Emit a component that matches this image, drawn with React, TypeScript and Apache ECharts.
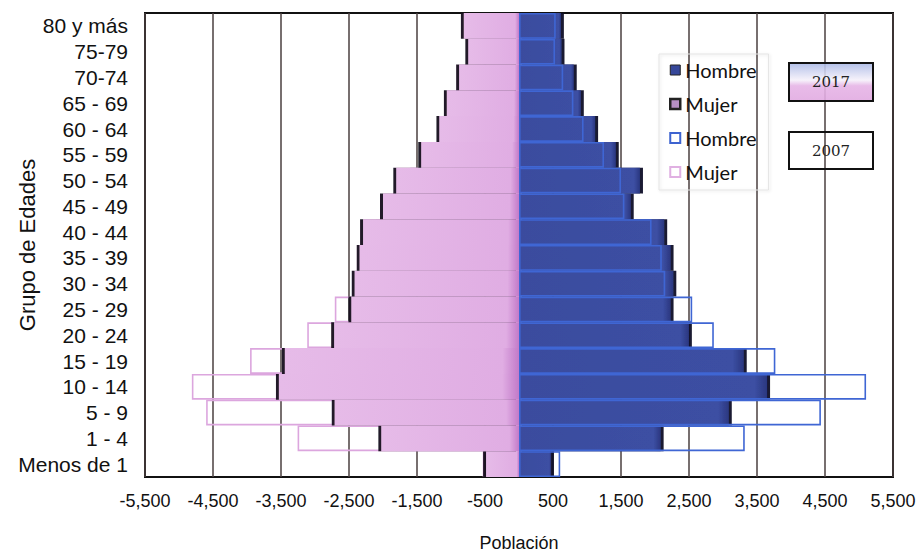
import React, { useEffect, useRef } from "react";
import * as echarts from "echarts";

const categories = [
  "Menos de 1", "1 - 4", "5 - 9", "10 - 14", "15 - 19", "20 - 24", "25 - 29",
  "30 - 34", "35 - 39", "40 - 44", "45 - 49", "50 - 54", "55 - 59", "60 - 64",
  "65 - 69", "70-74", "75-79", "80 y más",
];

const mujer2017 = [-484, -2024, -2709, -3530, -3442, -2718, -2464, -2415, -2342, -2293, -2000, -1804, -1437, -1170, -1060, -880, -745, -810];
const hombre2017 = [469, 2083, 3085, 3648, 3305, 2498, 2229, 2269, 2229, 2135, 1643, 1779, 1423, 1119, 909, 805, 625, 616];
const mujer2007 = [-533, -3256, -4601, -4811, -3955, -3114, -2709, -2300, -2200, -2100, -1850, -1600, -1300, -1050, -900, -750, -650, -700];
const hombre2007 = [606, 3320, 4440, 5104, 3770, 2865, 2547, 2150, 2100, 1950, 1550, 1500, 1250, 950, 800, 650, 530, 540];

const yearLabels = ["2017", "2007"];

export default function App() {
  const ref = useRef<HTMLDivElement>(null);
  useEffect(() => {
    if (!ref.current) return;
    const chart = echarts.init(ref.current, null, { renderer: "svg" });
    const pink = new echarts.graphic.LinearGradient(0, 0, 1, 0, [
      { offset: 0, color: "#e6bbe8" },
      { offset: 0.93, color: "#e0ade3" },
      { offset: 1, color: "#c27ac9" },
    ]);
    const blue = new echarts.graphic.LinearGradient(0, 0, 1, 0, [
      { offset: 0, color: "#3a4c9e" },
      { offset: 0.95, color: "#3c4fa3" },
      { offset: 1, color: "#2b3780" },
    ]);
    const font = "'Liberation Sans', Arial, sans-serif";
    chart.setOption({
      animation: false,
      backgroundColor: "#ffffff",
      grid: {
        left: 145, right: 23, top: 13, bottom: 80,
        containLabel: false,
        outerBoundsMode: "none",
        show: true, borderColor: "#111", borderWidth: 2,
      },
      legend: {
        orient: "vertical",
        left: 659, top: 54,
        padding: [6, 12, 8, 10],
        itemWidth: 10, itemHeight: 10, itemGap: 14,
        borderColor: "#e4e4e4", borderWidth: 1,
        shadowColor: "rgba(0,0,0,0.12)", shadowBlur: 3, shadowOffsetX: 1, shadowOffsetY: 1,
        textStyle: { fontFamily: "Lato, 'Open Sans', sans-serif", fontSize: 20, color: "#111" },
        formatter: (n: string) => n.split(" ")[0],
        data: [
          { name: "Hombre 2017", icon: "rect", itemStyle: { color: "#36489a", borderColor: "#222", borderWidth: 1 } },
          { name: "Mujer 2017", icon: "rect", itemStyle: { color: "#b68fc4", borderColor: "#222", borderWidth: 2.5 } },
          { name: "Hombre 2007", icon: "rect", itemStyle: { color: "#ffffff", borderColor: "#3d63d0", borderWidth: 2 } },
          { name: "Mujer 2007", icon: "rect", itemStyle: { color: "#ffffff", borderColor: "#e0b0e2", borderWidth: 2 } },
        ],
      },
      xAxis: {
        type: "value",
        min: -5500, max: 5500, interval: 1000,
        axisLine: { show: false },
        axisTick: { show: false },
        axisLabel: {
          margin: 15, fontSize: 18, color: "#111", fontFamily: font,
          formatter: (v: number) => v.toLocaleString("en-US"),
        },
        splitLine: { show: true, lineStyle: { color: "#4a3f3f", width: 1.5 } },
        name: "Población",
        nameLocation: "middle",
        nameGap: 57,
        nameMoveOverlap: false,
        nameTextStyle: { fontSize: 18, color: "#111", fontFamily: font },
      },
      yAxis: {
        type: "category",
        data: categories,
        axisLine: { show: false },
        axisTick: { show: false },
        axisLabel: { interval: 0, margin: 17, fontSize: 21, color: "#111", fontFamily: font },
        name: "Grupo de Edades",
        nameLocation: "middle",
        nameGap: 107,
        nameMoveOverlap: false,
        nameTextStyle: { fontSize: 22, color: "#111", fontFamily: font },
      },
      series: [
        {
          name: "Mujer 2007", type: "bar", data: mujer2007,
          barGap: "-100%", barCategoryGap: 0, z: 1,
          itemStyle: { color: "rgba(0,0,0,0)", borderColor: "#dca6de", borderWidth: 1.6 },
        },
        {
          name: "Hombre 2017", type: "bar", data: hombre2017,
          barGap: "-100%", barCategoryGap: 0, z: 2,
          itemStyle: { color: blue, shadowColor: "rgba(15,12,40,0.95)", shadowOffsetX: 3, shadowBlur: 1 },
        },
        {
          name: "Mujer 2017", type: "bar", data: mujer2017,
          barGap: "-100%", barCategoryGap: 0, z: 2,
          itemStyle: { color: pink, shadowColor: "rgba(20,10,30,0.95)", shadowOffsetX: -3, shadowBlur: 1 },
        },
        {
          name: "Hombre 2007", type: "bar", data: hombre2007,
          barGap: "-100%", barCategoryGap: 0, z: 3,
          itemStyle: { color: "rgba(0,0,0,0)", borderColor: "#3f66d4", borderWidth: 1.6 },
        },
      ],
      graphic: [
        {
          type: "rect", z: 100,
          shape: { x: 789, y: 63, width: 84, height: 38 },
          style: {
            fill: new echarts.graphic.LinearGradient(0, 0, 0, 1, [
              { offset: 0, color: "rgba(170,185,230,0.9)" },
              { offset: 0.45, color: "rgba(245,240,250,0.85)" },
              { offset: 0.6, color: "rgba(230,180,230,0.9)" },
              { offset: 1, color: "rgba(225,170,225,0.9)" },
            ]),
            stroke: "#111", lineWidth: 2,
          },
        },
        {
          type: "text", z: 101, x: 831, y: 82,
          style: { text: yearLabels[0], fontSize: 15, fontFamily: "'DejaVu Serif', serif", fill: "#222", align: "center", verticalAlign: "middle" },
        },
        {
          type: "rect", z: 100,
          shape: { x: 789, y: 132, width: 84, height: 37 },
          style: { fill: "rgba(0,0,0,0)", stroke: "#111", lineWidth: 2 },
        },
        {
          type: "text", z: 101, x: 831, y: 151,
          style: { text: yearLabels[1], fontSize: 15, fontFamily: "'DejaVu Serif', serif", fill: "#222", align: "center", verticalAlign: "middle" },
        },
      ],
    });
    return () => chart.dispose();
  }, []);
  return (
    <div
      ref={ref}
      style={{ position: "absolute", left: 0, top: 0, width: 916, height: 557 }}
    />
  );
}
